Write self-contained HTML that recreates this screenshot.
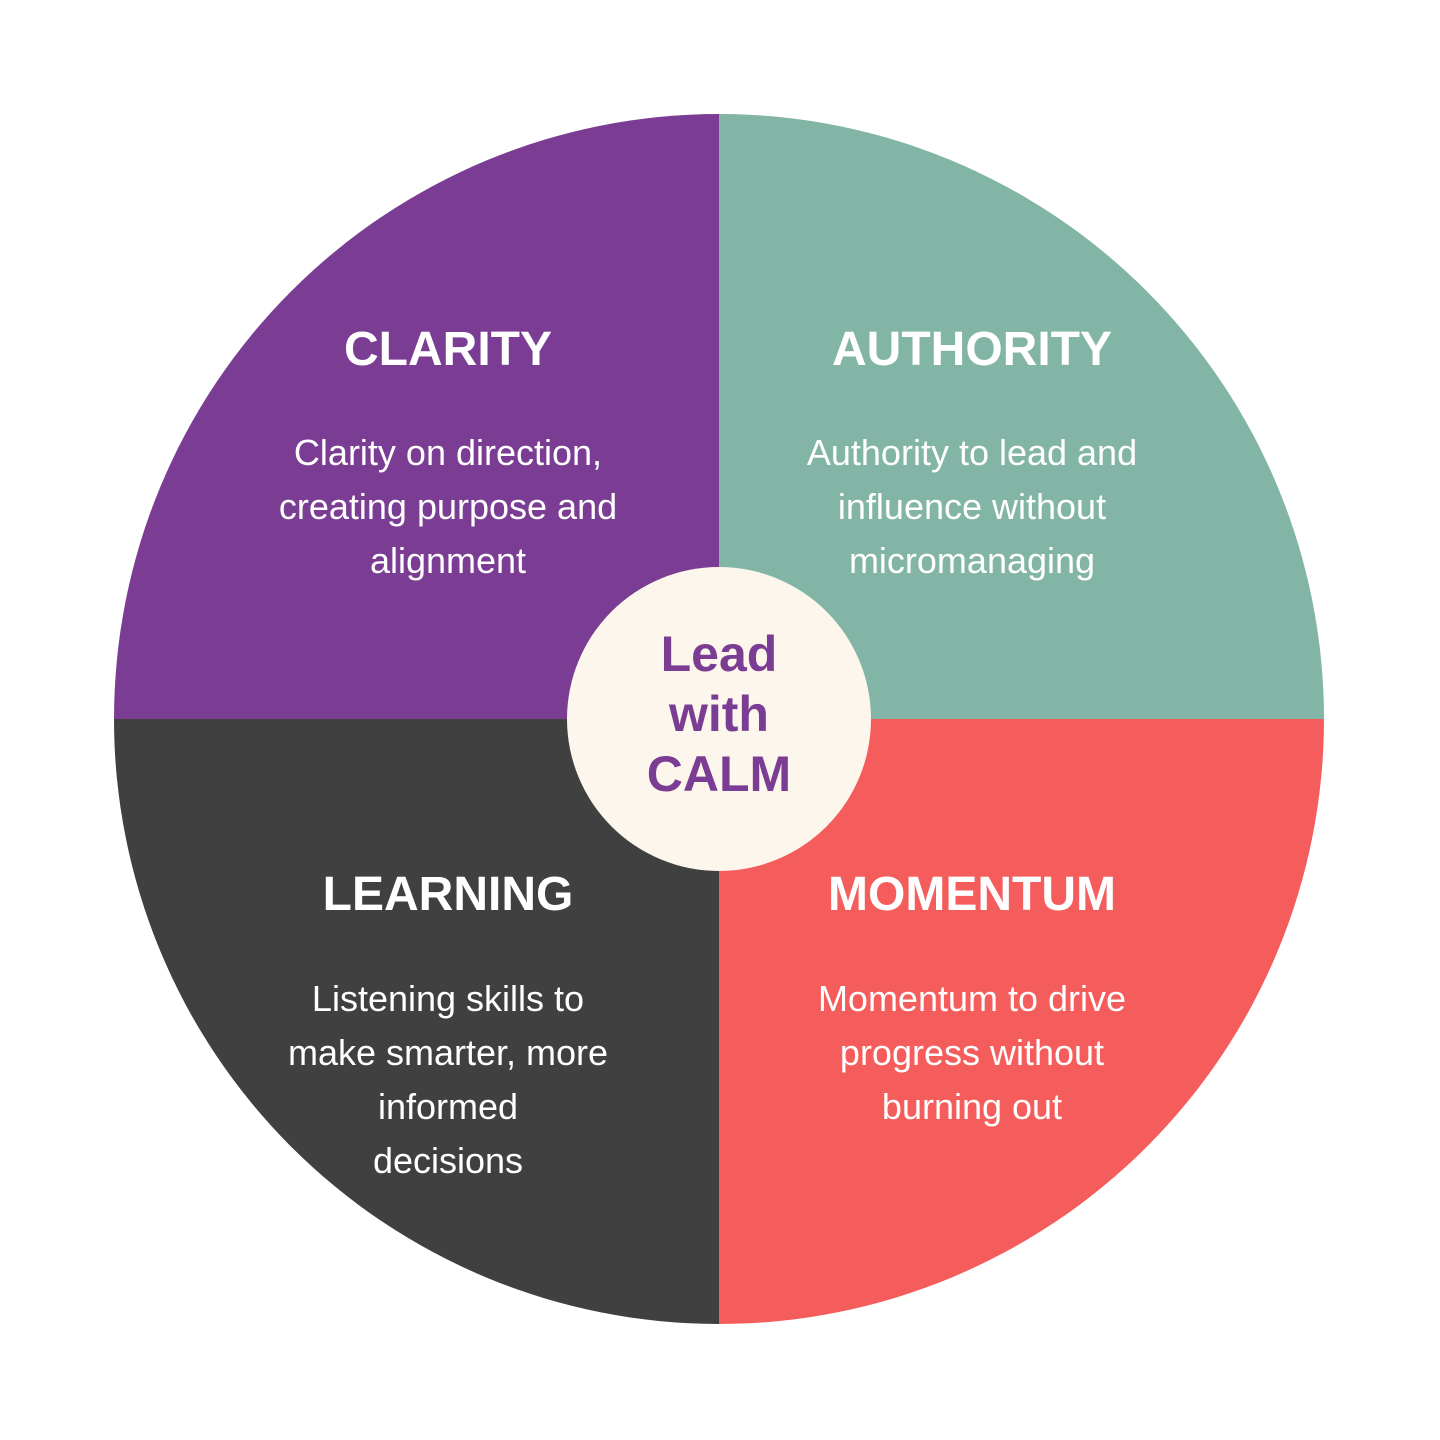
<!DOCTYPE html>
<html><head><meta charset="utf-8"><style>html,body{margin:0;padding:0;background:#fff}svg{display:block}</style></head>
<body>
<svg width="1440" height="1440" viewBox="0 0 1440 1440" xmlns="http://www.w3.org/2000/svg">
<rect width="1440" height="1440" fill="#fff"/>
<path d="M719 719 L719 114 A605 605 0 0 0 114 719 Z" fill="#7B3D93"/>
<path d="M719 719 L719 114 A605 605 0 0 1 1324 719 Z" fill="#82B5A5"/>
<path d="M719 719 L1324 719 A605 605 0 0 1 719 1324 Z" fill="#F45D5B"/>
<path d="M719 719 L719 1324 A605 605 0 0 1 114 719 Z" fill="#404040"/>
<circle cx="719" cy="719" r="152" fill="#FDF6EC"/>
<g font-family="Liberation Sans, sans-serif" fill="#fff" text-anchor="middle">
<g font-weight="bold" font-size="48">
<text x="448" y="365">CLARITY</text>
<text x="972" y="365">AUTHORITY</text>
<text x="448" y="910">LEARNING</text>
<text x="972" y="910">MOMENTUM</text>
</g>
<g font-size="36">
<text x="448" y="465">Clarity on direction,</text>
<text x="448" y="519">creating purpose and</text>
<text x="448" y="573">alignment</text>
<text x="972" y="465">Authority to lead and</text>
<text x="972" y="519">influence without</text>
<text x="972" y="573">micromanaging</text>
<text x="448" y="1011">Listening skills to</text>
<text x="448" y="1065">make smarter, more</text>
<text x="448" y="1119">informed</text>
<text x="448" y="1173">decisions</text>
<text x="972" y="1011">Momentum to drive</text>
<text x="972" y="1065">progress without</text>
<text x="972" y="1119">burning out</text>
</g>
<g font-weight="bold" font-size="50" fill="#7B3D93">
<text x="719" y="671">Lead</text>
<text x="719" y="731">with</text>
<text x="719" y="791">CALM</text>
</g>
</g>
</svg>
</body></html>
